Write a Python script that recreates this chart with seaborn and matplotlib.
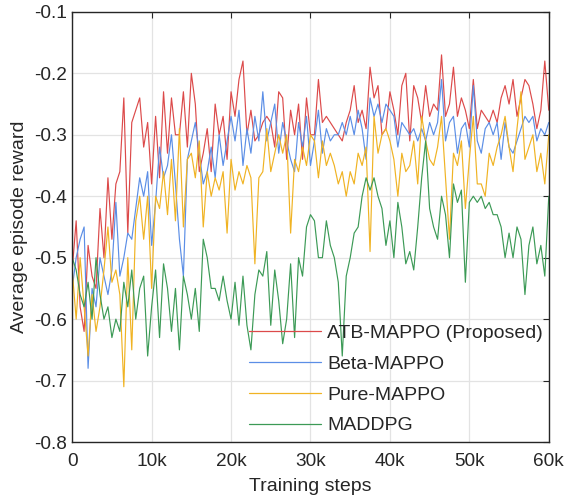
import numpy as np
import pandas as pd
import seaborn as sns
import matplotlib
matplotlib.use("Agg")
import matplotlib.pyplot as plt
from matplotlib.lines import Line2D

steps = list(range(0, 60001, 500))

atb = [-0.52, -0.44, -0.58, -0.62, -0.48, -0.53, -0.55, -0.42, -0.50, -0.37,
       -0.47, -0.38, -0.36, -0.24, -0.46, -0.28, -0.26, -0.24, -0.32, -0.28,
       -0.38, -0.27, -0.37, -0.23, -0.33, -0.24, -0.30, -0.30, -0.23, -0.32,
       -0.20, -0.25, -0.36, -0.33, -0.29, -0.36, -0.25, -0.30, -0.27, -0.34,
       -0.23, -0.27, -0.21, -0.18, -0.30, -0.26, -0.31, -0.30, -0.28, -0.27,
       -0.28, -0.32, -0.23, -0.24, -0.34, -0.26, -0.30, -0.25, -0.34, -0.24,
       -0.30, -0.30, -0.21, -0.28, -0.27, -0.28, -0.29, -0.30, -0.31, -0.28,
       -0.26, -0.22, -0.28, -0.26, -0.29, -0.19, -0.24, -0.22, -0.30, -0.29,
       -0.23, -0.26, -0.30, -0.22, -0.20, -0.31, -0.22, -0.24, -0.28, -0.22,
       -0.27, -0.25, -0.26, -0.17, -0.27, -0.25, -0.19, -0.27, -0.24, -0.26,
       -0.29, -0.21, -0.29, -0.26, -0.27, -0.28, -0.26, -0.28, -0.24, -0.22,
       -0.25, -0.21, -0.27, -0.24, -0.21, -0.22, -0.25, -0.29, -0.26, -0.18,
       -0.26]

beta = [-0.55, -0.50, -0.47, -0.45, -0.68, -0.55, -0.58, -0.50, -0.53, -0.56,
        -0.52, -0.41, -0.53, -0.50, -0.46, -0.47, -0.42, -0.37, -0.40, -0.36,
        -0.48, -0.41, -0.32, -0.37, -0.35, -0.30, -0.38, -0.47, -0.53, -0.34,
        -0.31, -0.28, -0.33, -0.38, -0.36, -0.32, -0.37, -0.30, -0.35, -0.31,
        -0.27, -0.31, -0.26, -0.35, -0.29, -0.33, -0.27, -0.31, -0.23, -0.31,
        -0.28, -0.25, -0.33, -0.28, -0.31, -0.34, -0.36, -0.28, -0.32, -0.27,
        -0.35, -0.31, -0.26, -0.33, -0.29, -0.31, -0.30, -0.30, -0.28, -0.30,
        -0.27, -0.30, -0.26, -0.29, -0.34, -0.24, -0.27, -0.25, -0.28, -0.25,
        -0.26, -0.27, -0.32, -0.28, -0.29, -0.30, -0.29, -0.31, -0.29, -0.31,
        -0.28, -0.30, -0.28, -0.21, -0.31, -0.28, -0.27, -0.33, -0.29, -0.28,
        -0.32, -0.22, -0.31, -0.33, -0.29, -0.28, -0.30, -0.28, -0.34, -0.28,
        -0.32, -0.33, -0.31, -0.29, -0.27, -0.28, -0.27, -0.31, -0.29, -0.30,
        -0.28]

pure = [-0.52, -0.60, -0.50, -0.58, -0.66, -0.56, -0.62, -0.58, -0.52, -0.45,
        -0.54, -0.52, -0.56, -0.71, -0.50, -0.65, -0.44, -0.40, -0.47, -0.40,
        -0.55, -0.40, -0.42, -0.36, -0.43, -0.34, -0.44, -0.29, -0.45, -0.34,
        -0.33, -0.37, -0.31, -0.45, -0.36, -0.40, -0.37, -0.39, -0.36, -0.46,
        -0.34, -0.39, -0.36, -0.38, -0.35, -0.37, -0.51, -0.37, -0.36, -0.29,
        -0.36, -0.33, -0.30, -0.33, -0.30, -0.46, -0.34, -0.36, -0.32, -0.35,
        -0.30, -0.31, -0.37, -0.31, -0.35, -0.33, -0.35, -0.38, -0.36, -0.40,
        -0.36, -0.38, -0.33, -0.35, -0.32, -0.49, -0.27, -0.33, -0.30, -0.29,
        -0.31, -0.34, -0.40, -0.33, -0.36, -0.35, -0.31, -0.38, -0.27, -0.31,
        -0.34, -0.35, -0.32, -0.27, -0.37, -0.47, -0.33, -0.35, -0.31, -0.42,
        -0.34, -0.27, -0.38, -0.38, -0.40, -0.33, -0.35, -0.32, -0.30, -0.27,
        -0.32, -0.36, -0.29, -0.23, -0.34, -0.32, -0.30, -0.36, -0.33, -0.38,
        -0.30]

maddpg = [-0.50, -0.52, -0.56, -0.58, -0.54, -0.60, -0.50, -0.56, -0.60, -0.58,
          -0.63, -0.60, -0.62, -0.54, -0.58, -0.52, -0.60, -0.55, -0.53, -0.66,
          -0.58, -0.52, -0.63, -0.51, -0.55, -0.62, -0.55, -0.65, -0.53, -0.56,
          -0.60, -0.55, -0.62, -0.47, -0.50, -0.55, -0.55, -0.57, -0.53, -0.57,
          -0.60, -0.54, -0.61, -0.53, -0.61, -0.65, -0.56, -0.52, -0.53, -0.49,
          -0.61, -0.52, -0.57, -0.64, -0.60, -0.51, -0.63, -0.50, -0.53, -0.45,
          -0.43, -0.44, -0.50, -0.50, -0.44, -0.48, -0.50, -0.54, -0.66, -0.53,
          -0.50, -0.46, -0.45, -0.40, -0.37, -0.39, -0.37, -0.40, -0.42, -0.48,
          -0.44, -0.50, -0.41, -0.45, -0.51, -0.49, -0.52, -0.45, -0.37, -0.31,
          -0.42, -0.45, -0.47, -0.40, -0.43, -0.50, -0.38, -0.41, -0.39, -0.54,
          -0.41, -0.40, -0.41, -0.40, -0.42, -0.41, -0.43, -0.43, -0.45, -0.50,
          -0.46, -0.50, -0.45, -0.47, -0.56, -0.48, -0.45, -0.51, -0.48, -0.53,
          -0.40]

labels = ["ATB-MAPPO (Proposed)", "Beta-MAPPO", "Pure-MAPPO", "MADDPG"]
colors = ["#dc4a4a", "#5b8ee6", "#f0b323", "#3c9a56"]
x_ticks = [0, 10000, 20000, 30000, 40000, 50000, 60000]
x_tick_labels = ["0", "10k", "20k", "30k", "40k", "50k", "60k"]
y_ticks = [-0.8, -0.7, -0.6, -0.5, -0.4, -0.3, -0.2, -0.1]

frames = []
for lab, vals in zip(labels, [atb, beta, pure, maddpg]):
    frames.append(pd.DataFrame({"step": steps, "reward": vals, "method": lab}))
df = pd.concat(frames, ignore_index=True)

sns.set_style("white")
plt.rcParams["font.family"] = ["Liberation Sans", "DejaVu Sans"]
plt.rcParams["axes.unicode_minus"] = False

fig = plt.figure(figsize=(5.64, 4.95), dpi=100)
ax = fig.add_axes([0.128, 0.107, 0.845, 0.869])

sns.lineplot(data=df, x="step", y="reward", hue="method", hue_order=labels,
             palette=colors, linewidth=0.85, ax=ax, legend=False)

ax.set_xlim(0, 60000)
ax.set_ylim(-0.8, -0.1)
ax.set_xticks(x_ticks)
ax.set_xticklabels(x_tick_labels)
ax.set_yticks(y_ticks)
ax.set_yticklabels([f"{v:.1f}" for v in y_ticks])
ax.grid(True, color="#e3e3e3", linewidth=0.9)
ax.set_axisbelow(True)
for s in ax.spines.values():
    s.set_color("#262626")
    s.set_linewidth(1.0)
ax.tick_params(direction="in", top=True, right=True, length=4,
               labelsize=13.7, colors="#262626", labelcolor="#262626")
ax.tick_params(axis="x", pad=8)
ax.tick_params(axis="y", pad=4)
ax.set_xlabel("Training steps", fontsize=14, color="#262626", labelpad=6)
ax.set_ylabel("Average episode reward", fontsize=14, color="#262626", labelpad=4)

handles = [Line2D([0], [0], color=c, linewidth=0.9) for c in colors]
ax.legend(handles, labels, frameon=False, loc="lower right",
          bbox_to_anchor=(1.0247, -0.023), fontsize=14, handlelength=3.72,
          handletextpad=0.31, labelspacing=0.68)

fig.savefig("out.png", dpi=100)
